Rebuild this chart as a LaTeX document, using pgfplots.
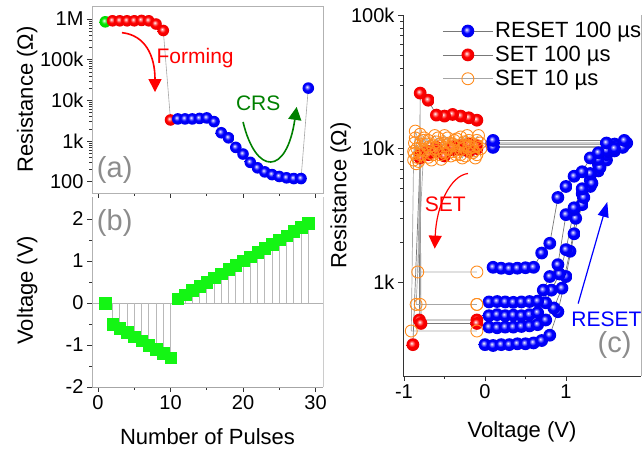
\documentclass[border=0pt]{standalone}
\usepackage{fontspec}
\setmainfont{Liberation Sans}
\usepackage{pgfplots}
\pgfplotsset{compat=1.18}
\usetikzlibrary{arrows.meta}
\definecolor{myorange}{RGB}{255,140,30}
\definecolor{dgreen}{RGB}{0,128,0}
\definecolor{bgreen}{RGB}{20,245,20}
\definecolor{lbl}{RGB}{140,140,140}
\definecolor{lgray}{RGB}{120,120,120}
\definecolor{pblue}{RGB}{0,0,255}
\definecolor{pred}{RGB}{255,0,0}
\definecolor{pgreen}{RGB}{0,230,0}

\newcommand\mkball[2]{%
  \pgfdeclareradialshading{#1sh}{\pgfpoint{-6bp}{6bp}}{color(0bp)=(white); color(5bp)=(#2!45!white); color(13bp)=(#2); color(30bp)=(#2!90!black); color(50bp)=(#2!70!black)}%
  \pgfdeclareplotmark{#1}{\pgfpathcircle{\pgfpointorigin}{\pgfplotmarksize}\pgfshadepath{#1sh}{0}\pgfusepath{}}}
\mkball{bballmark}{pblue}
\mkball{rballmark}{pred}
\mkball{gballmark}{pgreen}

\newcommand\lblfont{\fontsize{22}{24}\selectfont}

\pgfplotsset{
  every axis/.append style={
    scale only axis, clip=false,
    /pgf/number format/assume math mode=true,
    tick label style={font=\fontsize{20}{22}\selectfont},
    tick align=outside, tick pos=left,
    major tick length=5pt, minor tick length=3pt,
    tick style={black!80, line width=0.6pt},
    axis line style={draw=none},
  },
  blueball/.style={draw=lgray, line width=0.7pt, mark=bballmark, mark size=6.4pt},
  redball/.style={draw=lgray, line width=0.7pt, mark=rballmark, mark size=6.4pt},
  orcirc/.style={draw=gray!70, line width=0.7pt, mark=o, mark size=6pt, mark options={draw=myorange, line width=0.9pt, fill=none}},
}

\begin{document}
\begin{tikzpicture}
\useasboundingbox (0,0) rectangle (643pt,452pt);

% ---------------- panel (a)
\begin{axis}[at={(92pt,259pt)}, anchor=south west, width=231pt, height=187pt,
  ymode=log, xmin=-0.83, xmax=31.03, ymin=53, ymax=2.08e6,
  xtick={0,10,20,30}, xticklabels={}, minor x tick num=1,
  ytick={100,1000,10000,100000,1000000}, yticklabels={100,1k,10k,100k,1M},
  ylabel={Resistance (Ω)},
  every axis y label/.style={at={(axis description cs:-0.281,0.5)}, rotate=90, anchor=center, font=\lblfont},
]
\draw[gray!60, line width=0.8pt] (rel axis cs:0,0) -- (rel axis cs:1,0) -- (rel axis cs:1,1) -- (rel axis cs:0,1) -- cycle;
\addplot[gray!70, line width=0.6pt] coordinates {
(1,850000) (2,900000) (3,900000) (4,900000) (5,900000) (6,920000) (7,900000) (8,750000) (9,520000)
(10,3300) (11,3500) (12,3500) (13,3500) (14,3600) (15,3700) (16,3000) (17,1600) (18,1200) (19,700)
(20,480) (21,300) (22,220) (23,175) (24,150) (25,135) (26,125) (27,120) (28,120) (29,20000)};
\addplot[only marks, mark=gballmark, mark size=5.8pt] coordinates {(1,850000)};
\addplot[only marks, mark=rballmark, mark size=5.8pt] coordinates {
(2,900000) (3,900000) (4,900000) (5,900000) (6,920000) (7,900000) (8,750000) (9,520000) (10,3300)};
\addplot[only marks, mark=bballmark, mark size=5.8pt] coordinates {
(11,3500) (12,3500) (13,3500) (14,3600) (15,3700) (16,3000) (17,1600) (18,1200) (19,700)
(20,480) (21,300) (22,220) (23,175) (24,150) (25,135) (26,125) (27,120) (28,120) (29,20000)};
\draw[red, line width=1.6pt, -{Triangle[width=13pt,length=13pt]}] (axis cs:3.3,4.6e5) .. controls (axis cs:6.5,4e5) and (axis cs:7.86,1.26e5) .. (axis cs:7.86,1.6e4);
\node[red, font=\fontsize{21}{24}\selectfont] at (axis cs:13.4,1.1e5) {Forming};
\draw[dgreen, line width=1.6pt, -{Triangle[width=13pt,length=13pt]}] (axis cs:20,2950) .. controls (axis cs:21.8,140) and (axis cs:26,140) .. (axis cs:27.4,6900);
\node[dgreen, font=\fontsize{21}{24}\selectfont] at (axis cs:22.1,8700) {CRS};
\node[lbl, font=\fontsize{29}{30}\selectfont] at (axis cs:2.3,195) {(a)};
\end{axis}

% ---------------- panel (b)
\begin{axis}[at={(92pt,65pt)}, anchor=south west, width=231pt, height=190pt,
  xmin=-0.83, xmax=31.03, ymin=-2, ymax=2.52,
  xtick={0,10,20,30}, minor x tick num=1,
  ytick={-2,-1,0,1,2}, minor y tick num=1,
  xlabel={Number of Pulses}, ylabel={Voltage (V)},
  every axis y label/.style={at={(axis description cs:-0.281,0.51)}, rotate=90, anchor=center, font=\lblfont},
  every axis x label/.style={at={(axis description cs:0.5,-0.263)}, anchor=center, font=\lblfont},
]
\draw[gray!70, line width=0.8pt] (rel axis cs:0,0) -- (rel axis cs:1,0);
\draw[gray!40, line width=0.8pt] (rel axis cs:1,0) -- (rel axis cs:1,1);
\draw[gray!60, line width=0.8pt] (rel axis cs:0,0) -- (rel axis cs:0,1);
\addplot[gray!60, line width=0.6pt] coordinates {(-0.83,0) (31.03,0)};
\addplot[ycomb, gray!55, line width=0.6pt] coordinates {
(2,-0.5) (3,-0.6) (4,-0.7) (5,-0.8) (6,-0.9) (7,-1.0) (8,-1.1) (9,-1.2) (10,-1.3)
(11,0.1) (12,0.2) (13,0.3) (14,0.4) (15,0.5) (16,0.6) (17,0.7) (18,0.8) (19,0.9) (20,1.0)
(21,1.1) (22,1.2) (23,1.3) (24,1.4) (25,1.5) (26,1.6) (27,1.7) (28,1.8) (29,1.9)};
\addplot[only marks, mark=square*, mark size=5.8pt, color=bgreen] coordinates {
(1,0) (2,-0.5) (3,-0.6) (4,-0.7) (5,-0.8) (6,-0.9) (7,-1.0) (8,-1.1) (9,-1.2) (10,-1.3)
(11,0.1) (12,0.2) (13,0.3) (14,0.4) (15,0.5) (16,0.6) (17,0.7) (18,0.8) (19,0.9) (20,1.0)
(21,1.1) (22,1.2) (23,1.3) (24,1.4) (25,1.5) (26,1.6) (27,1.7) (28,1.8) (29,1.9)};
\node[lbl, font=\fontsize{29}{30}\selectfont] at (axis cs:2.3,1.9) {(b)};
\end{axis}

% ---------------- panel (c)
\begin{axis}[at={(403pt,76pt)}, anchor=south west, width=238pt, height=361pt,
  ymode=log, xmin=-1.012, xmax=1.926, ymin=198, ymax=1e5,
  xtick={-1,0,1}, minor x tick num=1,
  ytick={1000,10000,100000}, yticklabels={1k,10k,100k},
  xlabel={Voltage (V)}, ylabel={Resistance (Ω)},
  every axis y label/.style={at={(axis description cs:-0.262,0.5)}, rotate=90, anchor=center, font=\lblfont},
  every axis x label/.style={at={(axis description cs:0.5,-0.155)}, anchor=center, font=\lblfont},
  legend style={at={(axis description cs:1.01,0.985)}, anchor=north east, draw=none, fill=none,
    font=\fontsize{22}{24}\selectfont, row sep=3pt, inner sep=0pt},
  legend cell align=left,
  legend image code/.code={\draw[mark repeat=2,mark phase=2] plot coordinates {(0pt,0pt) (25pt,0pt) (50pt,0pt)};},
]
\draw[black!80, line width=0.8pt] (rel axis cs:0,1) -- (rel axis cs:0,0) -- (rel axis cs:1,0);
\draw[gray!60, line width=0.8pt] (rel axis cs:1,0) -- (rel axis cs:1,1);
% RESET 100 us
\addplot[blueball] coordinates {(0.0,340)(0.1,335)(0.2,340)(0.3,340)(0.4,345)(0.5,345)(0.6,350)(0.7,365)(0.8,400)(0.9,600)(1.0,1100)(1.1,2300)(1.2,3800)(1.3,5200)(1.4,6800)(1.5,8200)(1.6,9800)(1.7,10300)(0.1,10300)};
\addlegendentry{RESET 100 \textmu s}
\addplot[blueball, forget plot] coordinates {(0.05,460)(0.15,455)(0.25,460)(0.35,460)(0.45,465)(0.55,470)(0.65,480)(0.75,520)(0.85,640)(0.95,900)(1.05,1700)(1.12,3000)(1.2,4600)(1.3,5800)(1.4,7600)(1.5,9000)(1.6,10800)(1.72,10700)(0.08,10700)};
\addplot[blueball, forget plot] coordinates {(0.05,560)(0.15,570)(0.25,560)(0.35,565)(0.45,560)(0.55,570)(0.65,590)(0.75,700)(0.82,870)(0.92,1150)(1.0,1750)(1.1,3500)(1.22,4300)(1.32,5500)(1.42,7200)(1.52,9500)(1.62,10400)(1.75,11000)(0.1,11000)};
\addplot[blueball, forget plot] coordinates {(0.05,710)(0.15,715)(0.25,710)(0.35,705)(0.45,710)(0.55,715)(0.65,720)(0.72,870)(0.8,1100)(0.9,1350)(1.0,3200)(1.1,3600)(1.2,5000)(1.3,6500)(1.4,8300)(1.5,9700)(1.6,9600)(1.7,10200)(0.1,10200)};
\addplot[blueball, forget plot] coordinates {(0.1,1290)(0.2,1270)(0.3,1260)(0.4,1270)(0.5,1280)(0.6,1290)(0.7,1650)(0.8,1950)(0.9,4300)(1.0,5200)(1.1,6200)(1.2,6700)(1.3,8500)(1.4,9300)(1.5,11000)(1.6,10000)(1.72,11500)(0.1,11500)};
% SET 100 us
\addplot[redball] coordinates {(-0.1,16300)(-0.2,17000)(-0.3,17500)(-0.4,18000)(-0.5,17500)(-0.6,17800)(-0.7,23000)(-0.8,26000)(-0.81,520)(-0.1,520)};
\addlegendentry{SET 100 \textmu s}
\addplot[redball, forget plot] coordinates {(-0.1,10000)(-0.2,9500)(-0.3,10500)(-0.4,9800)(-0.5,9000)(-0.6,10200)(-0.7,9500)(-0.8,9000)(-0.79,490)(-0.1,490)};
\addplot[redball, forget plot] coordinates {(-0.1,10500)(-0.2,10800)(-0.3,9800)(-0.4,10300)(-0.5,8800)(-0.6,9600)(-0.7,9000)(-0.8,8500)(-0.89,340)};
% SET 10 us
\addplot[orcirc] coordinates {(-0.1,10500)(-0.2,11500)(-0.3,9800)(-0.4,10800)(-0.5,9200)(-0.6,11200)(-0.7,10200)(-0.8,9000)(-0.83,1190)(-0.1,1190)};
\addlegendentry{SET 10 \textmu s}
\addplot[orcirc, forget plot] coordinates {(-0.05,10000)(-0.15,9300)(-0.25,10600)(-0.35,11800)(-0.45,10000)(-0.55,9000)(-0.65,10500)(-0.75,12000)(-0.85,680)(-0.1,680)};
\addplot[orcirc, forget plot] coordinates {(-0.1,11500)(-0.2,10000)(-0.3,12200)(-0.4,9500)(-0.5,11000)(-0.6,10000)(-0.7,8600)(-0.8,10800)(-0.8,680)(-0.1,680)};
\addplot[orcirc, forget plot] coordinates {(-0.1,9000)(-0.2,10500)(-0.3,9000)(-0.4,10500)(-0.5,12500)(-0.6,9500)(-0.7,11500)(-0.8,12800)(-0.88,9500)(-0.91,430)(-0.1,430)};
\addplot[orcirc, forget plot] coordinates {(-0.08,12500)(-0.18,11000)(-0.28,8500)(-0.38,11500)(-0.48,10500)(-0.58,12000)(-0.68,9200)(-0.78,9800)(-0.86,13500)(-0.88,8200)};
\addplot[orcirc, forget plot] coordinates {(-0.12,8500)(-0.22,12500)(-0.32,10500)(-0.42,8800)(-0.52,9500)(-0.62,12500)(-0.72,10800)(-0.82,8000)(-0.87,11000)(-0.85,7700)};
\addplot[orcirc, forget plot] coordinates {(-0.06,11000)(-0.16,10200)(-0.26,11200)(-0.36,9000)(-0.46,12000)(-0.56,10800)(-0.66,8200)(-0.76,11500)(-0.84,10000)(-0.86,12000)};
\addplot[orcirc, forget plot] coordinates {(-0.14,9600)(-0.24,8800)(-0.34,9400)(-0.44,11000)(-0.54,8300)(-0.64,9000)(-0.74,9600)(-0.84,8600)(-0.87,9200)};
% annotations
\draw[red, line width=1.2pt, -{Triangle[width=13pt,length=13pt]}] (axis cs:-0.21,6500) .. controls (axis cs:-0.42,6300) and (axis cs:-0.6,3800) .. (axis cs:-0.62,1780);
\node[red, font=\fontsize{21}{24}\selectfont] at (axis cs:-0.49,3800) {SET};
\draw[blue, line width=1.2pt, -{Triangle[width=11pt,length=15pt]}] (axis cs:1.15,690) -- (axis cs:1.51,3980);
\node[blue, font=\fontsize{21}{24}\selectfont] at (axis cs:1.5,525) {RESET};
\node[lbl, font=\fontsize{29}{30}\selectfont] at (axis cs:1.6,340) {(c)};
\end{axis}
\end{tikzpicture}
\end{document}
